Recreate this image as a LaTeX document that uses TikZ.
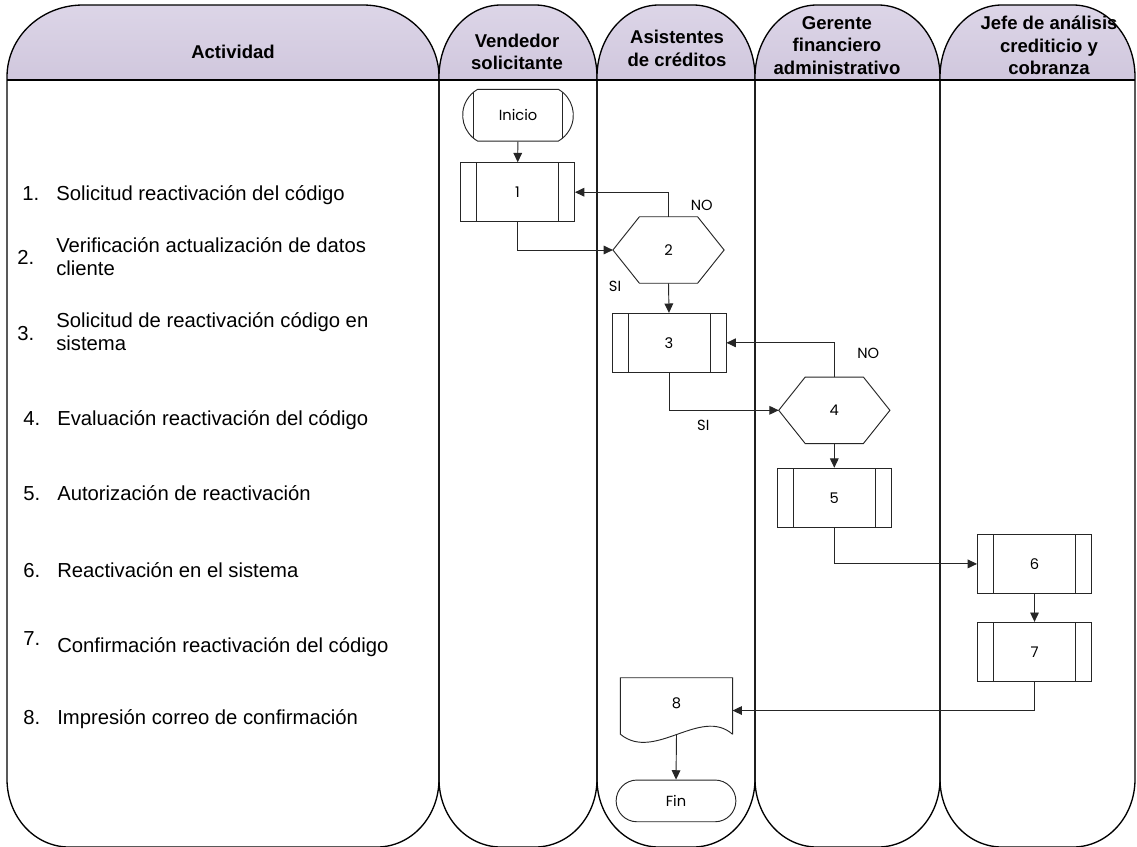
\documentclass[tikz,border=0pt]{standalone}
\usepackage{fontspec}
\setmainfont{Liberation Sans}
\newfontfamily\shapefont{Poppins}
\usetikzlibrary{arrows.meta,shapes.misc}

\definecolor{headtop}{HTML}{DDD6E8}
\definecolor{headbot}{HTML}{D0C7DD}
\definecolor{ink}{HTML}{262626}

% outline of one swimlane: left x, right x, x-radius of the top corners
\newcommand\lanepath[3]{(#1,80) -- (#1,77) .. controls (#1,37) and ({#1+0.448*#3},5) .. ({#1+#3},5)
  -- ({#2-#3},5) .. controls ({#2-0.448*#3},5) and (#2,37) .. (#2,77)
  -- (#2,779) .. controls (#2,817) and ({#2-0.448*62},847) .. ({#2-62},847)
  -- ({#1+62},847) .. controls ({#1+0.448*62},847) and (#1,817) .. (#1,779) -- cycle}
\newcommand\swimlane[3]{%
  \begin{scope}
    \clip \lanepath{#1}{#2}{#3};
    \shade[top color=headtop,bottom color=headbot] (#1,0) rectangle (#2,80);
  \end{scope}
  \draw[laneline] \lanepath{#1}{#2}{#3};
  \draw[laneline] (#1,80) -- (#2,80);}
% hexagonal decision outline around a named node
\newcommand\hexoutline[1]{\draw[shapeline] (#1.west) -- ([xshift=19.9pt]#1.north west)
  -- ([xshift=-19.9pt]#1.north east) -- (#1.east) -- ([xshift=-19.9pt]#1.south east)
  -- ([xshift=19.9pt]#1.south west) -- cycle;}

\begin{document}
\begin{tikzpicture}[x=0.75pt,y=-0.75pt,
  laneline/.style={draw=black,line width=1pt},
  shapeline/.style={draw=ink,line width=0.7pt},
  shapetext/.style={font=\shapefont\fontsize{11}{13}\selectfont},
  head/.style={align=center,font=\bfseries\fontsize{13.9}{16.8}\selectfont},
  num/.style={anchor=base west,inner sep=0pt,font=\fontsize{15.2}{17.3}\selectfont},
  act/.style={anchor=base west,inner sep=0pt,font=\fontsize{15.2}{17.3}\selectfont},
  actml/.style={anchor=west,align=left,inner sep=0pt,font=\fontsize{15.2}{17.3}\selectfont},
  proc/.style={shapeline,shapetext,rectangle,minimum width=85.5pt,minimum height=44.25pt,inner sep=0pt,
    path picture={\draw[ink,line width=0.7pt]
      ([xshift=12pt]path picture bounding box.north west) -- ([xshift=12pt]path picture bounding box.south west)
      ([xshift=-12pt]path picture bounding box.north east) -- ([xshift=-12pt]path picture bounding box.south east);}},
  startbox/.style={shapeline,shapetext,rounded rectangle,rounded rectangle arc length=120,
    minimum width=83pt,minimum height=38.8pt,inner sep=0pt,
    path picture={\draw[ink,line width=0.7pt]
      ([xshift=11.6pt]path picture bounding box.north west) -- ([xshift=11.6pt]path picture bounding box.south west)
      ([xshift=-11.6pt]path picture bounding box.north east) -- ([xshift=-11.6pt]path picture bounding box.south east);}},
  endbox/.style={shapeline,shapetext,rounded rectangle,minimum width=89.8pt,minimum height=31.3pt,inner sep=0pt},
  decision/.style={shapetext,rectangle,minimum width=83pt,minimum height=49.5pt,inner sep=0pt},
  docbox/.style={shapetext,rectangle,minimum width=83.7pt,minimum height=42pt,inner sep=0pt},
  flowlabel/.style={shapetext,inner sep=0pt},
  flow/.style={draw=ink,line width=0.7pt,-{Triangle[length=7pt,width=6.5pt]}}]

\useasboundingbox (0,0) rectangle (1137,846);
\fill[white] (0,0) rectangle (1137,846);

% swimlanes
\swimlane{7}{439}{76}
\swimlane{439}{597}{62}
\swimlane{597}{755}{62}
\swimlane{755}{940}{62}
\swimlane{940}{1135}{62}

% lane titles
\node[head] (hact) at (233,52) {Actividad};
\node[head] (hven) at (517,52) {Vendedor\\solicitante};
\node[head] (hasi) at (677,48.5) {Asistentes\\de créditos};
\node[head] (hger) at (837,45.5) {Gerente\\financiero\\administrativo};
\node[head] (hjef) at (1049,45.5) {Jefe de análisis\\crediticio y\\cobranza};

% activity list
\node[num] (n1) at (22,200) {1.};
\node[act] (a1) at (56,200) {Solicitud reactivación del código};
\node[num] (n2) at (17,264) {2.};
\node[actml] (a2) at (56,256.5) {Verificación actualización de datos\\cliente};
\node[num] (n3) at (17,340) {3.};
\node[actml] (a3) at (56,332) {Solicitud de reactivación código en\\sistema};
\node[num] (n4) at (23,425) {4.};
\node[act] (a4) at (57,425) {Evaluación reactivación del código};
\node[num] (n5) at (23,500) {5.};
\node[act] (a5) at (57,500) {Autorización de reactivación};
\node[num] (n6) at (23,577) {6.};
\node[act] (a6) at (57,577) {Reactivación en el sistema};
\node[num] (n7) at (23,645) {7.};
\node[act] (a7) at (57,652) {Confirmación reactivación del código};
\node[num] (n8) at (23,724) {8.};
\node[act] (a8) at (57,724) {Impresión correo de confirmación};

% process shapes
\node[startbox] (ini) at (518,115.2) {Inicio};
\node[proc] (p1) at (517.5,192.2) {1};
\node[decision] (h2) at (668.5,250) {2};
\hexoutline{h2}
\node[proc] (p3) at (669,342.8) {3};
\node[decision] (h4) at (834.3,410.3) {4};
\hexoutline{h4}
\node[proc] (p5) at (834.3,497.7) {5};
\node[proc] (p6) at (1034.5,563.9) {6};
\node[proc] (p7) at (1034.5,651.8) {7};
\node[docbox] (d8) at (676.5,706) {\raisebox{5pt}{8}};
\draw[shapeline] (d8.south east) -- (d8.north east) -- (d8.north west) -- (d8.south west)
  .. controls +(34,28) and +(-32,-28) .. (d8.south east);
\node[endbox] (fin) at (676,800.9) {Fin};

% branch labels
\node[flowlabel] (no2) at (701.7,205) {NO};
\node[flowlabel] (si2) at (615,286.7) {SI};
\node[flowlabel] (no4) at (868.3,353.3) {NO};
\node[flowlabel] (si4) at (703.3,425) {SI};

% connectors
\draw[flow] (ini) -- (p1);
\draw[flow] (h2.north) |- (p1.east);
\draw[flow] (p1.south) |- (h2.west);
\draw[flow] (h2.south) -- (p3.north);
\draw[flow] (h4.north) |- (p3.east);
\draw[flow] (p3.south) |- (h4.west);
\draw[flow] (h4.south) -- (p5.north);
\draw[flow] (p5.south) |- (p6.west);
\draw[flow] (p6.south) -- (p7.north);
\draw[flow] (p7.south) |- ([yshift=-3.4pt]d8.east);
\draw[flow] (d8.south) -- (fin.north);
\end{tikzpicture}
\end{document}
